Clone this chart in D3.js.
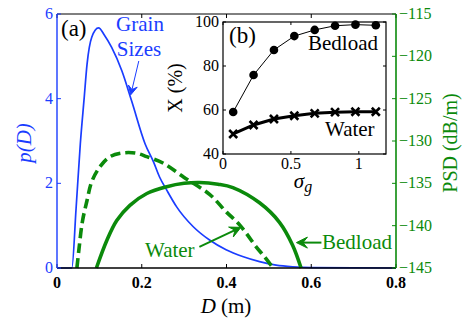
<!DOCTYPE html>
<html>
<head>
<meta charset="utf-8">
<script src="https://cdn.jsdelivr.net/npm/d3@7"></script>
<style>
  body { margin: 0; background: #fff; }
</style>
</head>
<body>
<div id="chart"></div>
<script>
// ---- data ----
// (a) grain size distribution p(D)
var grainD = [0, 0.035, 0.045, 0.055, 0.064, 0.071, 0.082, 0.098, 0.112, 0.129, 0.153, 0.176, 0.208, 0.228, 0.242, 0.259, 0.282, 0.321, 0.36, 0.399, 0.438, 0.478, 0.517, 0.556, 0.6, 0.8];
var grainP = [0, 0, 1.4, 2.93, 4.0, 4.82, 5.45, 5.67, 5.5, 5.21, 4.66, 3.95, 2.93, 2.5, 2.15, 1.84, 1.45, 0.98, 0.66, 0.43, 0.27, 0.15, 0.07, 0.03, 0.01, 0];

// water PSD (dashed), dB/m
var waterD = [0.047, 0.052, 0.06, 0.071, 0.082, 0.102, 0.125, 0.157, 0.188, 0.212, 0.25, 0.30, 0.36, 0.40, 0.431, 0.47, 0.49, 0.51];
var waterPSD = [-145, -142.7, -139.5, -137.0, -134.8, -133.0, -131.85, -131.4, -131.45, -131.85, -132.6, -134.3, -136.3, -138.4, -139.9, -142.5, -143.7, -145];

// bedload PSD (solid), dB/m
var bedD = [0.093, 0.118, 0.141, 0.172, 0.212, 0.259, 0.30, 0.336, 0.38, 0.415, 0.478, 0.525, 0.556, 0.576];
var bedPSD = [-145, -141.7, -139.4, -137.6, -136.2, -135.4, -135.0, -134.9, -135.1, -135.5, -137.3, -139.6, -142.3, -145];

// (b) inset: X (%) vs sigma_g
var sigmaG = [0.075, 0.225, 0.375, 0.525, 0.675, 0.825, 0.975, 1.125];
var xBedload = [59.1, 75.9, 87.3, 93.6, 96.4, 98.3, 98.8, 98.5];
var xWater = [49.1, 53.2, 55.9, 57.4, 58.5, 59.0, 59.2, 59.2];

// tick labels
var xTicks = [0, 0.2, 0.4, 0.6, 0.8];
var pTicks = [0, 2, 4, 6];
var psdTicks = [-145, -140, -135, -130, -125, -120, -115];
var insetXTicks = [0, 0.5, 1];
var insetYTicks = [40, 60, 80, 100];

var blue = "#1a3dff";
var green = "#0b8a0b";

var svg = d3.select("#chart").append("svg")
    .attr("width", 463)
    .attr("height", 322)
    .attr("font-family", "'Liberation Serif', 'DejaVu Serif', serif");

var x = d3.scaleLinear().domain([0, 0.8]).range([57, 396]);
var yL = d3.scaleLinear().domain([0, 6]).range([268, 14]);
var yR = d3.scaleLinear().domain([-145, -115]).range([268, 14]);

var xi = d3.scaleLinear().domain([0, 1.2]).range([223, 386]);
var yi = d3.scaleLinear().domain([40, 100]).range([154, 22]);

function zip(a, b) { return a.map(function(v, i) { return [v, b[i]]; }); }

var fmtMinus = function(d) { return String(d).replace("-", "\u2212"); };

// ---- curves ----
var lineP = d3.line().curve(d3.curveMonotoneX)
    .x(function(d) { return x(d[0]); })
    .y(function(d) { return yL(d[1]); });
var linePSD = d3.line().curve(d3.curveCatmullRom)
    .x(function(d) { return x(d[0]); })
    .y(function(d) { return yR(d[1]); });

svg.append("path")
    .attr("d", lineP(zip(grainD, grainP)))
    .attr("fill", "none").attr("stroke", blue).attr("stroke-width", 1.7);

svg.append("path")
    .attr("d", linePSD(zip(waterD, waterPSD)))
    .attr("fill", "none").attr("stroke", green).attr("stroke-width", 3.6)
    .attr("stroke-dasharray", "10,5");

svg.append("path")
    .attr("d", linePSD(zip(bedD, bedPSD)))
    .attr("fill", "none").attr("stroke", green).attr("stroke-width", 3.6);

// ---- main axes ----
// top border
svg.append("line").attr("x1", 57).attr("x2", 396).attr("y1", 14).attr("y2", 14)
    .attr("stroke", "#000").attr("stroke-width", 1);

// bottom axis
var gx = svg.append("g");
gx.append("line").attr("x1", 57).attr("x2", 396).attr("y1", 268).attr("y2", 268)
    .attr("stroke", "#000").attr("stroke-width", 1.6);
gx.selectAll(".tk").data(xTicks).enter().append("line")
    .attr("x1", function(d) { return x(d); }).attr("x2", function(d) { return x(d); })
    .attr("y1", 268).attr("y2", 264).attr("stroke", "#000");
gx.selectAll(".tt").data(xTicks).enter().append("line")
    .attr("x1", function(d) { return x(d); }).attr("x2", function(d) { return x(d); })
    .attr("y1", 14).attr("y2", 18).attr("stroke", "#000");
gx.selectAll("text").data(xTicks).enter().append("text")
    .attr("x", function(d) { return x(d); }).attr("y", 288)
    .attr("text-anchor", "middle").attr("font-size", 16).attr("font-weight", "bold")
    .text(function(d) { return d; });

// left axis (blue)
var gl = svg.append("g");
gl.append("line").attr("x1", 57).attr("x2", 57).attr("y1", 14).attr("y2", 268)
    .attr("stroke", blue).attr("stroke-width", 1.4);
gl.selectAll("line.t").data(pTicks).enter().append("line")
    .attr("x1", 57).attr("x2", 61)
    .attr("y1", function(d) { return yL(d); }).attr("y2", function(d) { return yL(d); })
    .attr("stroke", blue);
gl.selectAll("text").data(pTicks).enter().append("text")
    .attr("x", 53).attr("y", function(d) { return yL(d) + 5; })
    .attr("text-anchor", "end").attr("font-size", 16).attr("fill", blue)
    .text(function(d) { return d; });
svg.append("text")
    .attr("transform", "translate(31,143)rotate(-90)")
    .attr("text-anchor", "middle").attr("font-size", 21).attr("font-style", "italic")
    .attr("fill", blue).text("p(D)");

// right axis (green)
var gr = svg.append("g");
gr.append("line").attr("x1", 396).attr("x2", 396).attr("y1", 14).attr("y2", 268)
    .attr("stroke", green).attr("stroke-width", 1.6);
gr.selectAll("line.t").data(psdTicks).enter().append("line")
    .attr("x1", 392).attr("x2", 396)
    .attr("y1", function(d) { return yR(d); }).attr("y2", function(d) { return yR(d); })
    .attr("stroke", green);
gr.selectAll("text").data(psdTicks).enter().append("text")
    .attr("x", 399).attr("y", function(d) { return yR(d) + 5; })
    .attr("font-size", 16).attr("fill", green)
    .text(fmtMinus);
svg.append("text")
    .attr("transform", "translate(457,143)rotate(-90)")
    .attr("text-anchor", "middle").attr("font-size", 20)
    .attr("fill", green).text("PSD (dB/m)");

// x label
var xl = svg.append("text").attr("x", 226).attr("y", 313)
    .attr("text-anchor", "middle").attr("font-size", 21);
xl.append("tspan").attr("font-style", "italic").text("D");
xl.append("tspan").text(" (m)");

// ---- annotations ----
svg.append("text").attr("x", 61).attr("y", 36).attr("font-size", 23).text("(a)");
svg.append("text").attr("x", 140).attr("y", 31).attr("text-anchor", "middle")
    .attr("font-size", 21).attr("fill", blue).text("Grain");
svg.append("text").attr("x", 139).attr("y", 56).attr("text-anchor", "middle")
    .attr("font-size", 21).attr("fill", blue).text("Sizes");
svg.append("text").attr("x", 145).attr("y", 257)
    .attr("font-size", 21).attr("fill", green).text("Water");
svg.append("text").attr("x", 322).attr("y", 249)
    .attr("font-size", 21).attr("fill", green).text("Bedload");

function arrow(x1, y1, x2, y2, color, lw, hl, hw) {
  var ang = Math.atan2(y2 - y1, x2 - x1);
  var c = Math.cos(ang), s = Math.sin(ang);
  var bx = x2 - hl * c, by = y2 - hl * s;
  var nx = x2 - hl * 0.6 * c, ny = y2 - hl * 0.6 * s;
  svg.append("line").attr("x1", x1).attr("y1", y1).attr("x2", nx).attr("y2", ny)
      .attr("stroke", color).attr("stroke-width", lw);
  var pts = [[x2, y2], [bx - hw / 2 * s, by + hw / 2 * c], [nx, ny], [bx + hw / 2 * s, by - hw / 2 * c]];
  svg.append("path").attr("d", "M" + pts.join("L") + "Z")
      .attr("fill", color).attr("stroke", color).attr("stroke-width", 1);
}
arrow(x(0.193), yL(4.89), x(0.174), yL(4.09), blue, 1, 9, 9);
arrow(x(0.336), yR(-142.5), x(0.434), yR(-140.2), green, 2, 11, 11);
arrow(x(0.624), yR(-142.0), x(0.565), yR(-142.0), green, 2, 11, 11);

// ---- inset (b) ----
var ins = svg.append("g");
ins.append("rect").attr("x", 223).attr("y", 22).attr("width", 163).attr("height", 132)
    .attr("fill", "#fff").attr("stroke", "#000").attr("stroke-width", 1.2);
ins.selectAll("line.xb").data(insetXTicks).enter().append("line")
    .attr("x1", function(d) { return xi(d); }).attr("x2", function(d) { return xi(d); })
    .attr("y1", 154).attr("y2", 151).attr("stroke", "#000");
ins.selectAll("line.xt").data(insetXTicks).enter().append("line")
    .attr("x1", function(d) { return xi(d); }).attr("x2", function(d) { return xi(d); })
    .attr("y1", 22).attr("y2", 25).attr("stroke", "#000");
ins.selectAll("line.yl").data(insetYTicks).enter().append("line")
    .attr("x1", 223).attr("x2", 226)
    .attr("y1", function(d) { return yi(d); }).attr("y2", function(d) { return yi(d); })
    .attr("stroke", "#000");
ins.selectAll("line.yr").data(insetYTicks).enter().append("line")
    .attr("x1", 386).attr("x2", 383)
    .attr("y1", function(d) { return yi(d); }).attr("y2", function(d) { return yi(d); })
    .attr("stroke", "#000");
ins.selectAll("text.xl").data(insetXTicks).enter().append("text")
    .attr("x", function(d) { return xi(d); }).attr("y", 169)
    .attr("text-anchor", "middle").attr("font-size", 16)
    .text(function(d) { return d; });
ins.selectAll("text.yl").data(insetYTicks).enter().append("text")
    .attr("x", 219).attr("y", function(d) { return yi(d) + 5; })
    .attr("text-anchor", "end").attr("font-size", 16)
    .text(function(d) { return d; });
svg.append("text")
    .attr("transform", "translate(182,88)rotate(-90)")
    .attr("text-anchor", "middle").attr("font-size", 20).text("X (%)");
var sl = svg.append("text").attr("x", 303).attr("y", 188)
    .attr("text-anchor", "middle").attr("font-size", 21).attr("font-style", "italic");
sl.append("tspan").text("\u03c3");
sl.append("tspan").attr("dy", 4).attr("font-size", 16).text("g");

ins.append("text").attr("x", 229).attr("y", 43).attr("font-size", 23).text("(b)");
ins.append("text").attr("x", 308).attr("y", 50).attr("font-size", 21).text("Bedload");
ins.append("text").attr("x", 325).attr("y", 136).attr("font-size", 21).text("Water");

var lineI = d3.line()
    .x(function(d) { return xi(d[0]); })
    .y(function(d) { return yi(d[1]); });

ins.append("path").attr("d", lineI(zip(sigmaG, xBedload)))
    .attr("fill", "none").attr("stroke", "#000").attr("stroke-width", 1);
ins.selectAll("circle").data(zip(sigmaG, xBedload)).enter().append("circle")
    .attr("cx", function(d) { return xi(d[0]); })
    .attr("cy", function(d) { return yi(d[1]); })
    .attr("r", 4.3).attr("fill", "#000");

ins.append("path").attr("d", lineI(zip(sigmaG, xWater)))
    .attr("fill", "none").attr("stroke", "#000").attr("stroke-width", 3);
ins.selectAll("path.cross").data(zip(sigmaG, xWater)).enter().append("path")
    .attr("class", "cross")
    .attr("d", function(d) {
      var cx = xi(d[0]), cy = yi(d[1]), r = 4;
      return "M" + (cx - r) + "," + (cy - r) + "L" + (cx + r) + "," + (cy + r) +
             "M" + (cx - r) + "," + (cy + r) + "L" + (cx + r) + "," + (cy - r);
    })
    .attr("stroke", "#000").attr("stroke-width", 2.6);
</script>
</body>
</html>
